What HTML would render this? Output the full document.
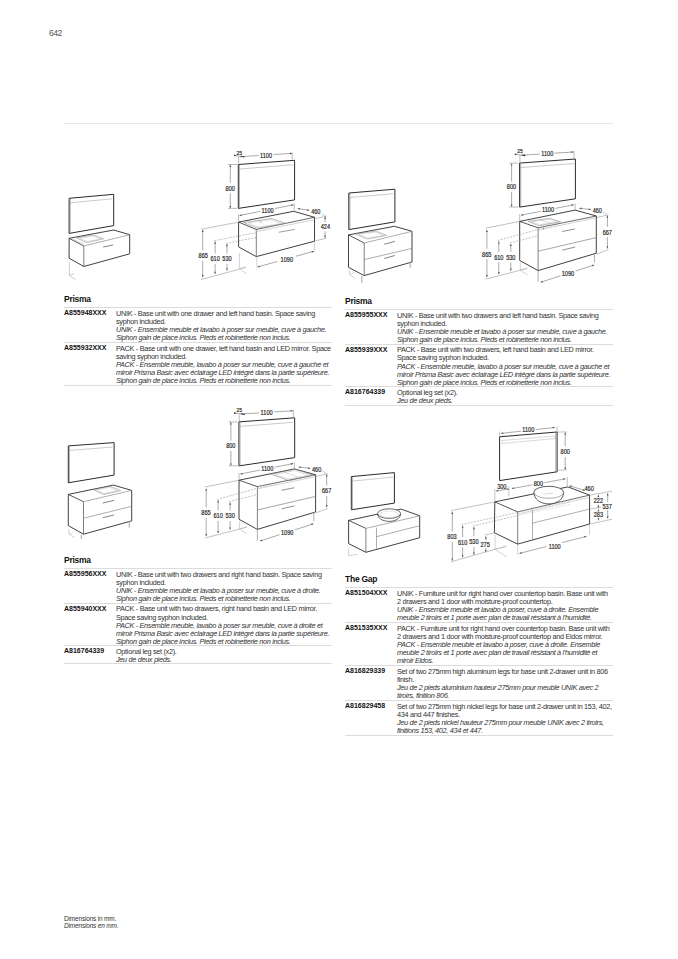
<!DOCTYPE html>
<html><head><meta charset="utf-8"><style>
html,body{margin:0;padding:0;background:#fff;width:678px;height:959px;overflow:hidden;position:relative}
body{font-family:"Liberation Sans",sans-serif;color:#2a2a2a}
.h{position:absolute;font-size:8.5px;letter-spacing:-0.25px;font-weight:bold;line-height:10px;height:10px;color:#111;white-space:nowrap}
.rule{position:absolute;width:268px;height:1px;background:#dcdcdc}
.code{position:absolute;font-size:7px;font-weight:bold;line-height:8.15px;color:#111;white-space:nowrap}
.desc{position:absolute;font-size:7.3px;line-height:8.15px;letter-spacing:-0.31px;white-space:nowrap;color:#333}
.i{font-style:italic}
.desc .i{letter-spacing:-0.325px}
.pn{position:absolute;left:49px;top:28px;font-size:8.6px;line-height:10px;color:#555;letter-spacing:-0.5px}
.top{position:absolute;left:64px;top:122.6px;width:549px;height:1px;background:#e6e6e6}
.foot{position:absolute;left:64px;top:914.5px;font-size:6.5px;line-height:7.6px;color:#333;letter-spacing:-0.18px;white-space:nowrap}
svg{position:absolute;left:0;top:0}
</style></head><body>
<div class="pn">642</div>
<div class="top"></div>
<div class="h" style="left:64px;top:294.10px">Prisma</div>
<div class="rule" style="left:64px;top:306.80px"></div>
<div class="rule" style="left:64px;top:341.90px"></div>
<div class="rule" style="left:64px;top:384.60px"></div>
<div class="code" style="left:64px;top:308.80px">A855948XXX</div>
<div class="desc" style="left:116px;top:309.60px"><div>UNIK - Base unit with one drawer and left hand basin. Space saving</div><div>syphon included.</div><div class="i">UNIK - Ensemble meuble et lavabo à poser sur meuble, cuve à gauche.</div><div class="i">Siphon gain de place inclus. Pieds et robinetterie non inclus.</div></div>
<div class="code" style="left:64px;top:343.90px">A855932XXX</div>
<div class="desc" style="left:116px;top:344.70px"><div>PACK - Base unit with one drawer, left hand basin and LED mirror. Space</div><div>saving syphon included.</div><div class="i">PACK - Ensemble meuble, lavabo à poser sur meuble, cuve à gauche et</div><div class="i">miroir Prisma Basic avec éclairage LED intégré dans la partie supérieure.</div><div class="i">Siphon gain de place inclus. Pieds et robinetterie non inclus.</div></div>
<div class="h" style="left:345px;top:295.70px">Prisma</div>
<div class="rule" style="left:345px;top:308.80px"></div>
<div class="rule" style="left:345px;top:343.50px"></div>
<div class="rule" style="left:345px;top:386.00px"></div>
<div class="rule" style="left:345px;top:404.60px"></div>
<div class="code" style="left:345px;top:310.80px">A855955XXX</div>
<div class="desc" style="left:397px;top:311.60px"><div>UNIK - Base unit with two drawers and left hand basin. Space saving</div><div>syphon included.</div><div class="i">UNIK - Ensemble meuble et lavabo à poser sur meuble, cuve à gauche.</div><div class="i">Siphon gain de place inclus. Pieds et robinetterie non inclus.</div></div>
<div class="code" style="left:345px;top:345.50px">A855939XXX</div>
<div class="desc" style="left:397px;top:346.30px"><div>PACK - Base unit with two drawers, left hand basin and LED mirror.</div><div>Space saving syphon included.</div><div class="i">PACK - Ensemble meuble, lavabo à poser sur meuble, cuve à gauche et</div><div class="i">miroir Prisma Basic avec éclairage LED intégré dans la partie supérieure.</div><div class="i">Siphon gain de place inclus. Pieds et robinetterie non inclus.</div></div>
<div class="code" style="left:345px;top:388.00px">A816764339</div>
<div class="desc" style="left:397px;top:388.80px"><div>Optional leg set (x2).</div><div class="i">Jeu de deux pieds.</div></div>
<div class="h" style="left:64px;top:554.80px">Prisma</div>
<div class="rule" style="left:64px;top:567.80px"></div>
<div class="rule" style="left:64px;top:602.60px"></div>
<div class="rule" style="left:64px;top:645.00px"></div>
<div class="rule" style="left:64px;top:663.40px"></div>
<div class="code" style="left:64px;top:569.80px">A855956XXX</div>
<div class="desc" style="left:116px;top:570.60px"><div>UNIK - Base unit with two drawers and right hand basin. Space saving</div><div>syphon included.</div><div class="i">UNIK - Ensemble meuble et lavabo à poser sur meuble, cuve à droite.</div><div class="i">Siphon gain de place inclus. Pieds et robinetterie non inclus.</div></div>
<div class="code" style="left:64px;top:604.60px">A855940XXX</div>
<div class="desc" style="left:116px;top:605.40px"><div>PACK - Base unit with two drawers, right hand basin and LED mirror.</div><div>Space saving syphon included.</div><div class="i">PACK - Ensemble meuble, lavabo à poser sur meuble, cuve à droite et</div><div class="i">miroir Prisma Basic avec éclairage LED intégré dans la partie supérieure.</div><div class="i">Siphon gain de place inclus. Pieds et robinetterie non inclus.</div></div>
<div class="code" style="left:64px;top:647.00px">A816764339</div>
<div class="desc" style="left:116px;top:647.80px"><div>Optional leg set (x2).</div><div class="i">Jeu de deux pieds.</div></div>
<div class="h" style="left:345px;top:574.30px">The Gap</div>
<div class="rule" style="left:345px;top:587.20px"></div>
<div class="rule" style="left:345px;top:622.00px"></div>
<div class="rule" style="left:345px;top:664.90px"></div>
<div class="rule" style="left:345px;top:699.80px"></div>
<div class="rule" style="left:345px;top:734.60px"></div>
<div class="code" style="left:345px;top:589.20px">A851504XXX</div>
<div class="desc" style="left:397px;top:590.00px"><div>UNIK - Furniture unit for right hand over countertop basin. Base unit with</div><div>2 drawers and 1 door with moisture-proof countertop.</div><div class="i">UNIK - Ensemble meuble et lavabo à poser, cuve à droite. Ensemble</div><div class="i">meuble 2 tiroirs et 1 porte avec plan de travail résistant à l’humidité.</div></div>
<div class="code" style="left:345px;top:624.00px">A851535XXX</div>
<div class="desc" style="left:397px;top:624.80px"><div>PACK - Furniture unit for right hand over countertop basin. Base unit with</div><div>2 drawers and 1 door with moisture-proof countertop and Eidos mirror.</div><div class="i">PACK - Ensemble meuble et lavabo à poser, cuve à droite. Ensemble</div><div class="i">meuble 2 tiroirs et 1 porte avec plan de travail résistant à l’humidité et</div><div class="i">miroir Eidos.</div></div>
<div class="code" style="left:345px;top:666.90px">A816829339</div>
<div class="desc" style="left:397px;top:667.70px"><div>Set of two 275mm high aluminum legs for base unit 2-drawer unit in 806</div><div>finish.</div><div class="i">Jeu de 2 pieds aluminium hauteur 275mm pour meuble UNIK avec 2</div><div class="i">tiroirs, finition 806.</div></div>
<div class="code" style="left:345px;top:701.80px">A816829458</div>
<div class="desc" style="left:397px;top:702.60px"><div>Set of two 275mm high nickel legs for base unit 2-drawer unit in 153, 402,</div><div>434 and 447 finishes.</div><div class="i">Jeu de 2 pieds nickel hauteur 275mm pour meuble UNIK avec 2 tiroirs,</div><div class="i">finitions 153, 402, 434 et 447.</div></div>
<div class="foot"><div>Dimensions in mm.</div><div class="i">Dimensions en mm.</div></div>
<svg width="678" height="959" viewBox="0 0 678 959" font-family="Liberation Sans, sans-serif"><polygon points="69.1,198.3 113.7,194.3 113.7,225.6 69.1,233.4" fill="none" stroke="#2b2b2b" stroke-width="1.0"/>
<polyline points="70.1,202.8 112.2,198.8" fill="none" stroke="#b5b5b5" stroke-width="0.7"/>
<polyline points="70.2,198.8 70.2,233.1" fill="none" stroke="#777" stroke-width="0.6"/>
<polygon points="69.1,238.3 113.7,230.0 129.7,234.7 129.7,253.8 83.8,266.5 69.1,258.2" fill="none" stroke="#2b2b2b" stroke-width="0.9"/>
<polyline points="69.1,238.3 83.8,246.0" fill="none" stroke="#2b2b2b" stroke-width="0.8"/>
<polyline points="83.8,246.0 83.8,266.5" fill="none" stroke="#555" stroke-width="0.75"/>
<polyline points="83.8,246.0 129.7,234.7" fill="none" stroke="#777" stroke-width="0.6"/>
<polyline points="72.0,239.0 84.0,244.0" fill="none" stroke="#b5b5b5" stroke-width="0.6"/>
<polygon points="76.5,238.0 93.0,235.0 103.5,238.8 87.0,242.6" fill="none" stroke="#8a8a8a" stroke-width="0.55"/>
<polygon points="79.5,238.2 92.5,236.0 100.5,238.9 87.5,241.6" fill="none" stroke="#b5b5b5" stroke-width="0.45"/>
<polyline points="103.1,247.1 113.1,244.9" fill="none" stroke="#666" stroke-width="0.8"/>
<polyline points="69.4,262.6 69.4,275.3 75.5,279.8" fill="none" stroke="#b5b5b5" stroke-width="0.7"/>
<polyline points="69.4,275.3 74.4,273.7" fill="none" stroke="#b5b5b5" stroke-width="0.6"/>
<polygon points="238.3,164.5 294.6,160.3 294.6,199.9 238.3,208.4" fill="none" stroke="#2b2b2b" stroke-width="1.0"/>
<polyline points="239.3,169.0 293.1,164.8" fill="none" stroke="#b5b5b5" stroke-width="0.7"/>
<polyline points="239.4,165.0 239.4,208.1" fill="none" stroke="#777" stroke-width="0.6"/>
<polyline points="240.0,156.6 258.5,155.5" fill="none" stroke="#555" stroke-width="0.5"/>
<polyline points="273.5,154.5 292.2,153.4" fill="none" stroke="#555" stroke-width="0.5"/>
<polygon points="240.0,156.6 242.1,155.6 242.3,157.4" fill="#555"/>
<polygon points="292.2,153.4 290.1,154.4 289.9,152.6" fill="#555"/>
<text transform="translate(266.00 155.20) scale(0.8 1)" y="2.52" font-size="7.0" text-anchor="middle" fill="#222" stroke="#222" stroke-width="0.18">1100</text>
<polyline points="292.2,152.5 292.2,159.5" fill="none" stroke="#777" stroke-width="0.5"/>
<polyline points="238.6,157.0 238.6,163.5" fill="none" stroke="#777" stroke-width="0.5"/>
<text transform="translate(239.20 152.40) scale(0.8 1)" y="2.23" font-size="6.2" text-anchor="middle" fill="#222" stroke="#222" stroke-width="0.18">25</text>
<polyline points="235.0,155.6 243.4,156.7" fill="none" stroke="#555" stroke-width="0.5"/>
<polygon points="236.2,155.7 233.9,156.3 234.1,154.6" fill="#222"/>
<polygon points="242.2,156.5 244.5,155.9 244.3,157.7" fill="#222"/>
<polyline points="230.3,164.8 230.3,182.8" fill="none" stroke="#555" stroke-width="0.5"/>
<polyline points="230.3,193.3 230.3,208.2" fill="none" stroke="#555" stroke-width="0.5"/>
<polygon points="230.3,164.8 231.2,167.0 229.4,167.0" fill="#555"/>
<polygon points="230.3,208.2 229.4,206.0 231.2,206.0" fill="#555"/>
<text transform="translate(230.20 188.10) scale(0.8 1)" y="2.52" font-size="7.0" text-anchor="middle" fill="#222" stroke="#222" stroke-width="0.18">800</text>
<polyline points="228.0,164.5 237.0,164.5" fill="none" stroke="#777" stroke-width="0.5"/>
<polyline points="228.0,208.4 237.0,208.4" fill="none" stroke="#777" stroke-width="0.5"/>
<polygon points="238.6,222.1 293.7,211.3 314.5,217.3 314.5,241.2 256.3,256.6 238.6,246.9" fill="none" stroke="#2b2b2b" stroke-width="0.9"/>
<polyline points="238.6,222.1 256.3,229.5" fill="none" stroke="#2b2b2b" stroke-width="0.8"/>
<polyline points="256.3,229.5 256.3,256.6" fill="none" stroke="#555" stroke-width="0.75"/>
<polyline points="256.3,229.5 314.5,217.3" fill="none" stroke="#2b2b2b" stroke-width="0.7"/>
<polyline points="256.3,231.6 314.5,219.6" fill="none" stroke="#b5b5b5" stroke-width="0.6"/>
<polygon points="243.7,222.6 271.7,218.5 285.5,223.4 257.1,228.2" fill="none" stroke="#8a8a8a" stroke-width="0.6"/>
<polygon points="248.5,222.9 271.0,219.6 281.5,223.4 258.0,227.1" fill="none" stroke="#b5b5b5" stroke-width="0.45"/>
<polyline points="259.5,219.8 261.5,223.5" fill="none" stroke="#888" stroke-width="0.5"/>
<polyline points="278.7,232.3 294.9,229.3" fill="none" stroke="#777" stroke-width="0.7"/>
<polyline points="239.5,215.5 260.1,211.4" fill="none" stroke="#555" stroke-width="0.5"/>
<polyline points="274.8,208.5 293.5,204.8" fill="none" stroke="#555" stroke-width="0.5"/>
<polygon points="239.5,215.5 241.5,214.2 241.8,216.0" fill="#555"/>
<polygon points="293.5,204.8 291.5,206.1 291.2,204.3" fill="#555"/>
<text transform="translate(267.60 210.60) scale(0.8 1)" y="2.52" font-size="7.0" text-anchor="middle" fill="#222" stroke="#222" stroke-width="0.18">1100</text>
<polyline points="238.6,214.5 238.6,221.0" fill="none" stroke="#777" stroke-width="0.5"/>
<polyline points="294.2,203.5 294.2,210.5" fill="none" stroke="#777" stroke-width="0.5"/>
<polyline points="297.7,208.6 309.2,210.2" fill="none" stroke="#555" stroke-width="0.5"/>
<polygon points="297.7,208.6 300.0,208.0 299.8,209.8" fill="#555"/>
<polygon points="309.2,210.2 306.9,210.8 307.1,209.0" fill="#555"/>
<text transform="translate(315.80 211.60) scale(0.8 1)" y="2.52" font-size="7.0" text-anchor="middle" fill="#222" stroke="#222" stroke-width="0.18">460</text>
<polyline points="321.6,214.0 326.0,216.6" fill="none" stroke="#777" stroke-width="0.45"/>
<polyline points="325.1,216.8 325.1,222.3" fill="none" stroke="#555" stroke-width="0.5"/>
<polyline points="325.1,231.3 325.1,237.8" fill="none" stroke="#555" stroke-width="0.5"/>
<polygon points="325.1,216.8 326.0,219.0 324.2,219.0" fill="#555"/>
<polygon points="325.1,237.8 324.2,235.6 326.0,235.6" fill="#555"/>
<text transform="translate(325.40 226.80) scale(0.8 1)" y="2.52" font-size="7.0" text-anchor="middle" fill="#222" stroke="#222" stroke-width="0.18">424</text>
<polyline points="315.5,218.5 326.5,216.2" fill="none" stroke="#777" stroke-width="0.45"/>
<polyline points="315.5,240.8 326.5,238.2" fill="none" stroke="#777" stroke-width="0.45"/>
<polyline points="257.5,267.0 314.0,251.2" fill="none" stroke="#555" stroke-width="0.5"/>
<polygon points="257.5,267.0 259.4,265.5 259.9,267.3" fill="#555"/>
<polygon points="314.0,251.2 312.1,252.7 311.6,250.9" fill="#555"/>
<text transform="translate(286.80 259.50) scale(0.8 1)" y="2.52" font-size="7.0" text-anchor="middle" fill="#222" stroke="#222" stroke-width="0.18">1090</text>
<polyline points="256.8,257.5 256.8,267.0" fill="none" stroke="#b5b5b5" stroke-width="0.6"/>
<polyline points="314.5,242.0 314.5,251.5" fill="none" stroke="#b5b5b5" stroke-width="0.6"/>
<rect x="277" y="255" width="19" height="7.5" fill="#fff"/>
<text transform="translate(286.80 259.00) scale(0.8 1)" y="2.52" font-size="7.0" text-anchor="middle" fill="#222" stroke="#222" stroke-width="0.18">1090</text>
<polyline points="202.7,229.8 202.7,250.3" fill="none" stroke="#555" stroke-width="0.5"/>
<polyline points="202.7,260.9 202.7,277.3" fill="none" stroke="#555" stroke-width="0.5"/>
<polygon points="202.7,229.8 203.6,232.0 201.8,232.0" fill="#555"/>
<polygon points="202.7,277.3 201.8,275.1 203.6,275.1" fill="#555"/>
<text transform="translate(203.20 255.60) scale(0.8 1)" y="2.52" font-size="7.0" text-anchor="middle" fill="#222" stroke="#222" stroke-width="0.18">865</text>
<polyline points="201.0,229.3 238.6,222.1" fill="none" stroke="#777" stroke-width="0.45"/>
<polyline points="201.0,279.6 245.6,267.5" fill="none" stroke="#777" stroke-width="0.45"/>
<polyline points="215.1,241.5 215.1,253.4" fill="none" stroke="#555" stroke-width="0.5"/>
<polyline points="215.1,263.9 215.1,274.0" fill="none" stroke="#555" stroke-width="0.5"/>
<polygon points="215.1,241.5 216.0,243.7 214.2,243.7" fill="#555"/>
<polygon points="215.1,274.0 214.2,271.8 216.0,271.8" fill="#555"/>
<text transform="translate(215.10 258.70) scale(0.8 1)" y="2.52" font-size="7.0" text-anchor="middle" fill="#222" stroke="#222" stroke-width="0.18">610</text>
<polyline points="214.0,240.8 257.0,232.5" fill="none" stroke="#777" stroke-width="0.45" stroke-dasharray="2,1.2"/>
<polyline points="227.0,244.0 227.0,253.4" fill="none" stroke="#555" stroke-width="0.5"/>
<polyline points="227.0,263.9 227.0,270.6" fill="none" stroke="#555" stroke-width="0.5"/>
<polygon points="227.0,244.0 227.9,246.2 226.1,246.2" fill="#555"/>
<polygon points="227.0,270.6 226.1,268.4 227.9,268.4" fill="#555"/>
<text transform="translate(227.00 258.70) scale(0.8 1)" y="2.52" font-size="7.0" text-anchor="middle" fill="#222" stroke="#222" stroke-width="0.18">530</text>
<polyline points="226.0,243.5 256.0,237.5" fill="none" stroke="#777" stroke-width="0.45" stroke-dasharray="2,1.2"/>
<polyline points="239.4,253.0 239.4,268.5 246.6,273.7" fill="none" stroke="#b5b5b5" stroke-width="0.6"/>
<polyline points="239.4,268.5 246.0,266.5" fill="none" stroke="#b5b5b5" stroke-width="0.5"/>
<polygon points="348.8,193.0 394.9,189.2 394.9,221.9 348.8,229.6" fill="none" stroke="#2b2b2b" stroke-width="1.0"/>
<polyline points="349.8,197.5 393.4,193.7" fill="none" stroke="#b5b5b5" stroke-width="0.7"/>
<polyline points="349.9,193.5 349.9,229.3" fill="none" stroke="#777" stroke-width="0.6"/>
<polygon points="348.5,234.9 394.3,226.3 412.0,231.3 412.0,262.0 364.2,275.6 348.5,267.3" fill="none" stroke="#2b2b2b" stroke-width="0.9"/>
<polyline points="348.5,234.9 364.2,243.0" fill="none" stroke="#2b2b2b" stroke-width="0.8"/>
<polyline points="364.2,243.0 364.2,275.6" fill="none" stroke="#555" stroke-width="0.75"/>
<polyline points="364.2,243.0 412.0,231.3" fill="none" stroke="#777" stroke-width="0.6"/>
<polyline points="364.2,259.6 412.0,248.4" fill="none" stroke="#777" stroke-width="0.6"/>
<polyline points="384.2,244.3 394.9,241.4" fill="none" stroke="#666" stroke-width="0.8"/>
<polyline points="384.2,258.5 394.9,255.5" fill="none" stroke="#666" stroke-width="0.8"/>
<polygon points="355.3,233.9 376.0,231.1 386.8,235.4 367.2,239.0" fill="none" stroke="#8a8a8a" stroke-width="0.55"/>
<polygon points="358.5,234.2 375.5,232.1 383.5,235.5 367.5,238.2" fill="none" stroke="#b5b5b5" stroke-width="0.45"/>
<polyline points="361.8,276.0 361.8,282.7" fill="none" stroke="#b5b5b5" stroke-width="1.2"/>
<polyline points="410.2,262.5 410.2,267.9" fill="none" stroke="#b5b5b5" stroke-width="1.2"/>
<polyline points="349.2,269.7 349.2,274.4 355.3,278.5" fill="none" stroke="#b5b5b5" stroke-width="0.6"/>
<polyline points="349.2,274.4 354.0,272.5" fill="none" stroke="#b5b5b5" stroke-width="0.5"/>
<polygon points="519.6,163.1 575.4,159.0 575.4,198.8 519.6,207.1" fill="none" stroke="#2b2b2b" stroke-width="1.0"/>
<polyline points="520.6,167.6 573.9,163.5" fill="none" stroke="#b5b5b5" stroke-width="0.7"/>
<polyline points="520.7,163.6 520.7,206.8" fill="none" stroke="#777" stroke-width="0.6"/>
<polyline points="521.3,155.2 539.8,154.1" fill="none" stroke="#555" stroke-width="0.5"/>
<polyline points="554.8,153.1 573.5,152.0" fill="none" stroke="#555" stroke-width="0.5"/>
<polygon points="521.3,155.2 523.4,154.2 523.6,156.0" fill="#555"/>
<polygon points="573.5,152.0 571.4,153.0 571.2,151.2" fill="#555"/>
<text transform="translate(547.30 153.80) scale(0.8 1)" y="2.52" font-size="7.0" text-anchor="middle" fill="#222" stroke="#222" stroke-width="0.18">1100</text>
<polyline points="574.0,151.0 574.0,158.3" fill="none" stroke="#777" stroke-width="0.5"/>
<polyline points="519.9,155.5 519.9,162.3" fill="none" stroke="#777" stroke-width="0.5"/>
<text transform="translate(520.00 151.00) scale(0.8 1)" y="2.23" font-size="6.2" text-anchor="middle" fill="#222" stroke="#222" stroke-width="0.18">25</text>
<polyline points="515.8,154.3 524.2,155.4" fill="none" stroke="#555" stroke-width="0.5"/>
<polygon points="517.0,154.4 514.7,155.1 514.9,153.3" fill="#222"/>
<polygon points="523.0,155.2 525.3,154.6 525.1,156.4" fill="#222"/>
<polyline points="511.6,163.4 511.6,181.7" fill="none" stroke="#555" stroke-width="0.5"/>
<polyline points="511.6,192.2 511.6,206.8" fill="none" stroke="#555" stroke-width="0.5"/>
<polygon points="511.6,163.4 512.5,165.6 510.7,165.6" fill="#555"/>
<polygon points="511.6,206.8 510.7,204.6 512.5,204.6" fill="#555"/>
<text transform="translate(511.50 186.90) scale(0.8 1)" y="2.52" font-size="7.0" text-anchor="middle" fill="#222" stroke="#222" stroke-width="0.18">800</text>
<polyline points="509.3,163.1 518.3,163.1" fill="none" stroke="#777" stroke-width="0.5"/>
<polyline points="509.3,207.0 518.3,207.0" fill="none" stroke="#777" stroke-width="0.5"/>
<polygon points="519.7,221.4 575.1,210.1 596.3,216.0 596.3,253.2 538.1,270.6 519.7,260.5" fill="none" stroke="#2b2b2b" stroke-width="0.9"/>
<polyline points="519.7,221.4 538.1,227.8" fill="none" stroke="#2b2b2b" stroke-width="0.8"/>
<polyline points="538.1,227.8 538.1,270.6" fill="none" stroke="#555" stroke-width="0.75"/>
<polyline points="538.1,227.8 596.3,216.0" fill="none" stroke="#2b2b2b" stroke-width="0.7"/>
<polyline points="538.1,230.0 596.3,217.8" fill="none" stroke="#b5b5b5" stroke-width="0.6"/>
<polyline points="538.1,251.2 596.3,237.6" fill="none" stroke="#777" stroke-width="0.65"/>
<polyline points="562.2,231.5 575.1,228.9" fill="none" stroke="#777" stroke-width="0.8"/>
<polyline points="562.2,250.1 575.1,247.1" fill="none" stroke="#777" stroke-width="0.8"/>
<polygon points="528.3,221.4 549.5,218.3 560.6,221.8 538.9,225.8" fill="none" stroke="#8a8a8a" stroke-width="0.6"/>
<polygon points="532.0,221.6 549.0,219.4 557.0,221.9 539.5,224.8" fill="none" stroke="#b5b5b5" stroke-width="0.45"/>
<polyline points="541.0,220.3 552.0,223.5" fill="none" stroke="#b5b5b5" stroke-width="0.45"/>
<polyline points="543.3,227.5 543.8,229.5" fill="none" stroke="#777" stroke-width="0.8"/>
<polyline points="521.0,215.2 540.7,211.3" fill="none" stroke="#555" stroke-width="0.5"/>
<polyline points="555.4,208.4 573.8,204.8" fill="none" stroke="#555" stroke-width="0.5"/>
<polygon points="521.0,215.2 523.0,213.9 523.3,215.7" fill="#555"/>
<polygon points="573.8,204.8 571.8,206.1 571.5,204.3" fill="#555"/>
<text transform="translate(548.00 209.60) scale(0.8 1)" y="2.52" font-size="7.0" text-anchor="middle" fill="#222" stroke="#222" stroke-width="0.18">1100</text>
<polyline points="519.7,214.0 519.7,220.5" fill="none" stroke="#777" stroke-width="0.5"/>
<polyline points="575.1,203.5 575.1,209.5" fill="none" stroke="#777" stroke-width="0.5"/>
<polyline points="579.3,208.3 591.0,209.5" fill="none" stroke="#555" stroke-width="0.5"/>
<polygon points="579.3,208.3 581.6,207.6 581.4,209.4" fill="#555"/>
<polygon points="591.0,209.5 588.7,210.2 588.9,208.4" fill="#555"/>
<text transform="translate(597.30 210.50) scale(0.8 1)" y="2.52" font-size="7.0" text-anchor="middle" fill="#222" stroke="#222" stroke-width="0.18">460</text>
<polyline points="603.0,212.0 606.6,214.5" fill="none" stroke="#777" stroke-width="0.45"/>
<polyline points="607.4,215.5 607.4,226.8" fill="none" stroke="#555" stroke-width="0.5"/>
<polyline points="607.4,237.2 607.4,248.5" fill="none" stroke="#555" stroke-width="0.5"/>
<polygon points="607.4,215.5 608.3,217.7 606.5,217.7" fill="#555"/>
<polygon points="607.4,248.5 606.5,246.3 608.3,246.3" fill="#555"/>
<text transform="translate(607.30 232.00) scale(0.8 1)" y="2.52" font-size="7.0" text-anchor="middle" fill="#222" stroke="#222" stroke-width="0.18">667</text>
<polyline points="597.0,217.5 608.5,214.8" fill="none" stroke="#777" stroke-width="0.45"/>
<polyline points="597.0,254.0 608.5,249.5" fill="none" stroke="#777" stroke-width="0.45"/>
<polyline points="540.7,282.2 560.3,275.9" fill="none" stroke="#555" stroke-width="0.5"/>
<polyline points="575.6,271.0 594.2,265.0" fill="none" stroke="#555" stroke-width="0.5"/>
<polygon points="540.7,282.2 542.5,280.7 543.1,282.4" fill="#555"/>
<polygon points="594.2,265.0 592.4,266.5 591.8,264.8" fill="#555"/>
<text transform="translate(567.90 273.30) scale(0.8 1)" y="2.52" font-size="7.0" text-anchor="middle" fill="#222" stroke="#222" stroke-width="0.18">1090</text>
<polyline points="538.1,271.0 538.1,281.5" fill="none" stroke="#b5b5b5" stroke-width="1.1"/>
<polyline points="594.5,254.0 594.5,262.5" fill="none" stroke="#b5b5b5" stroke-width="1.1"/>
<polyline points="486.9,229.8 486.9,248.8" fill="none" stroke="#555" stroke-width="0.5"/>
<polyline points="486.9,259.2 486.9,277.3" fill="none" stroke="#555" stroke-width="0.5"/>
<polygon points="486.9,229.8 487.8,232.0 486.0,232.0" fill="#555"/>
<polygon points="486.9,277.3 486.0,275.1 487.8,275.1" fill="#555"/>
<text transform="translate(486.70 254.00) scale(0.8 1)" y="2.52" font-size="7.0" text-anchor="middle" fill="#222" stroke="#222" stroke-width="0.18">865</text>
<polyline points="485.5,228.2 519.7,221.4" fill="none" stroke="#777" stroke-width="0.45"/>
<polyline points="485.5,279.2 527.4,268.4" fill="none" stroke="#777" stroke-width="0.45"/>
<polyline points="498.8,241.4 498.8,251.8" fill="none" stroke="#555" stroke-width="0.5"/>
<polyline points="498.8,262.2 498.8,274.3" fill="none" stroke="#555" stroke-width="0.5"/>
<polygon points="498.8,241.4 499.7,243.6 497.9,243.6" fill="#555"/>
<polygon points="498.8,274.3 497.9,272.1 499.7,272.1" fill="#555"/>
<text transform="translate(498.80 257.00) scale(0.8 1)" y="2.52" font-size="7.0" text-anchor="middle" fill="#222" stroke="#222" stroke-width="0.18">610</text>
<polyline points="497.8,240.5 538.0,229.5" fill="none" stroke="#777" stroke-width="0.45" stroke-dasharray="2,1.2"/>
<polyline points="538.0,229.5 560.0,224.5" fill="none" stroke="#b5b5b5" stroke-width="0.4" stroke-dasharray="2,1.2"/>
<polyline points="510.8,243.8 510.8,251.8" fill="none" stroke="#555" stroke-width="0.5"/>
<polyline points="510.8,262.2 510.8,270.8" fill="none" stroke="#555" stroke-width="0.5"/>
<polygon points="510.8,243.8 511.7,246.0 509.9,246.0" fill="#555"/>
<polygon points="510.8,270.8 509.9,268.6 511.7,268.6" fill="#555"/>
<text transform="translate(510.80 257.00) scale(0.8 1)" y="2.52" font-size="7.0" text-anchor="middle" fill="#222" stroke="#222" stroke-width="0.18">530</text>
<polyline points="509.8,242.8 538.0,235.8" fill="none" stroke="#777" stroke-width="0.45" stroke-dasharray="2,1.2"/>
<polyline points="520.3,262.4 520.3,270.3 527.4,274.8" fill="none" stroke="#b5b5b5" stroke-width="0.6"/>
<polyline points="520.3,270.3 527.0,268.0" fill="none" stroke="#b5b5b5" stroke-width="0.5"/>
<polygon points="238.9,421.9 294.7,417.8 294.7,457.6 238.9,465.9" fill="none" stroke="#2b2b2b" stroke-width="1.0"/>
<polyline points="239.9,426.4 293.2,422.3" fill="none" stroke="#b5b5b5" stroke-width="0.7"/>
<polyline points="240.0,422.4 240.0,465.6" fill="none" stroke="#777" stroke-width="0.6"/>
<polyline points="240.6,414.0 259.1,412.9" fill="none" stroke="#555" stroke-width="0.5"/>
<polyline points="274.1,411.9 292.8,410.8" fill="none" stroke="#555" stroke-width="0.5"/>
<polygon points="240.6,414.0 242.7,413.0 242.9,414.8" fill="#555"/>
<polygon points="292.8,410.8 290.7,411.8 290.5,410.0" fill="#555"/>
<text transform="translate(266.60 412.60) scale(0.8 1)" y="2.52" font-size="7.0" text-anchor="middle" fill="#222" stroke="#222" stroke-width="0.18">1100</text>
<polyline points="293.3,409.8 293.3,417.1" fill="none" stroke="#777" stroke-width="0.5"/>
<polyline points="239.2,414.3 239.2,421.1" fill="none" stroke="#777" stroke-width="0.5"/>
<text transform="translate(239.30 409.80) scale(0.8 1)" y="2.23" font-size="6.2" text-anchor="middle" fill="#222" stroke="#222" stroke-width="0.18">25</text>
<polyline points="235.1,413.1 243.5,414.2" fill="none" stroke="#555" stroke-width="0.5"/>
<polygon points="236.3,413.2 234.0,413.9 234.2,412.1" fill="#222"/>
<polygon points="242.3,414.0 244.6,413.4 244.4,415.2" fill="#222"/>
<polyline points="230.9,422.2 230.9,440.5" fill="none" stroke="#555" stroke-width="0.5"/>
<polyline points="230.9,451.0 230.9,465.6" fill="none" stroke="#555" stroke-width="0.5"/>
<polygon points="230.9,422.2 231.8,424.4 230.0,424.4" fill="#555"/>
<polygon points="230.9,465.6 230.0,463.4 231.8,463.4" fill="#555"/>
<text transform="translate(230.80 445.70) scale(0.8 1)" y="2.52" font-size="7.0" text-anchor="middle" fill="#222" stroke="#222" stroke-width="0.18">800</text>
<polyline points="228.6,421.9 237.6,421.9" fill="none" stroke="#777" stroke-width="0.5"/>
<polyline points="228.6,465.8 237.6,465.8" fill="none" stroke="#777" stroke-width="0.5"/>
<polygon points="239.0,480.2 294.4,468.9 315.6,474.8 315.6,512.0 257.4,529.4 239.0,519.3" fill="none" stroke="#2b2b2b" stroke-width="0.9"/>
<polyline points="239.0,480.2 257.4,486.6" fill="none" stroke="#2b2b2b" stroke-width="0.8"/>
<polyline points="257.4,486.6 257.4,529.4" fill="none" stroke="#555" stroke-width="0.75"/>
<polyline points="257.4,486.6 315.6,474.8" fill="none" stroke="#2b2b2b" stroke-width="0.7"/>
<polyline points="257.4,488.8 315.6,476.6" fill="none" stroke="#b5b5b5" stroke-width="0.6"/>
<polyline points="257.4,510.0 315.6,496.4" fill="none" stroke="#777" stroke-width="0.65"/>
<polyline points="281.5,490.3 294.4,487.7" fill="none" stroke="#777" stroke-width="0.8"/>
<polyline points="281.5,508.9 294.4,505.9" fill="none" stroke="#777" stroke-width="0.8"/>
<polygon points="270.5,474.0 295.3,469.3 312.8,475.0 289.1,480.7" fill="none" stroke="#8a8a8a" stroke-width="0.6"/>
<polygon points="274.8,474.4 294.8,470.6 308.3,475.1 288.8,479.1" fill="none" stroke="#b5b5b5" stroke-width="0.45"/>
<polyline points="284.3,472.3 299.3,477.4" fill="none" stroke="#b5b5b5" stroke-width="0.45"/>
<polyline points="240.3,474.0 260.0,470.1" fill="none" stroke="#555" stroke-width="0.5"/>
<polyline points="274.7,467.2 293.1,463.6" fill="none" stroke="#555" stroke-width="0.5"/>
<polygon points="240.3,474.0 242.3,472.7 242.6,474.5" fill="#555"/>
<polygon points="293.1,463.6 291.1,464.9 290.8,463.1" fill="#555"/>
<text transform="translate(267.30 468.40) scale(0.8 1)" y="2.52" font-size="7.0" text-anchor="middle" fill="#222" stroke="#222" stroke-width="0.18">1100</text>
<polyline points="239.0,472.8 239.0,479.3" fill="none" stroke="#777" stroke-width="0.5"/>
<polyline points="294.4,462.3 294.4,468.3" fill="none" stroke="#777" stroke-width="0.5"/>
<polyline points="298.6,467.1 310.3,468.3" fill="none" stroke="#555" stroke-width="0.5"/>
<polygon points="298.6,467.1 300.9,466.4 300.7,468.2" fill="#555"/>
<polygon points="310.3,468.3 308.0,469.0 308.2,467.2" fill="#555"/>
<text transform="translate(316.60 469.30) scale(0.8 1)" y="2.52" font-size="7.0" text-anchor="middle" fill="#222" stroke="#222" stroke-width="0.18">460</text>
<polyline points="322.3,470.8 325.9,473.3" fill="none" stroke="#777" stroke-width="0.45"/>
<polyline points="326.7,474.3 326.7,485.6" fill="none" stroke="#555" stroke-width="0.5"/>
<polyline points="326.7,496.1 326.7,507.3" fill="none" stroke="#555" stroke-width="0.5"/>
<polygon points="326.7,474.3 327.6,476.5 325.8,476.5" fill="#555"/>
<polygon points="326.7,507.3 325.8,505.1 327.6,505.1" fill="#555"/>
<text transform="translate(326.60 490.80) scale(0.8 1)" y="2.52" font-size="7.0" text-anchor="middle" fill="#222" stroke="#222" stroke-width="0.18">667</text>
<polyline points="316.3,476.3 327.8,473.6" fill="none" stroke="#777" stroke-width="0.45"/>
<polyline points="316.3,512.8 327.8,508.3" fill="none" stroke="#777" stroke-width="0.45"/>
<polyline points="260.0,541.0 279.6,534.7" fill="none" stroke="#555" stroke-width="0.5"/>
<polyline points="294.9,529.8 313.5,523.8" fill="none" stroke="#555" stroke-width="0.5"/>
<polygon points="260.0,541.0 261.8,539.5 262.4,541.2" fill="#555"/>
<polygon points="313.5,523.8 311.7,525.3 311.1,523.6" fill="#555"/>
<text transform="translate(287.20 532.10) scale(0.8 1)" y="2.52" font-size="7.0" text-anchor="middle" fill="#222" stroke="#222" stroke-width="0.18">1090</text>
<polyline points="257.4,529.8 257.4,540.3" fill="none" stroke="#b5b5b5" stroke-width="1.1"/>
<polyline points="313.8,512.8 313.8,521.3" fill="none" stroke="#b5b5b5" stroke-width="1.1"/>
<polyline points="206.2,488.6 206.2,507.5" fill="none" stroke="#555" stroke-width="0.5"/>
<polyline points="206.2,518.0 206.2,536.1" fill="none" stroke="#555" stroke-width="0.5"/>
<polygon points="206.2,488.6 207.1,490.8 205.3,490.8" fill="#555"/>
<polygon points="206.2,536.1 205.3,533.9 207.1,533.9" fill="#555"/>
<text transform="translate(206.00 512.80) scale(0.8 1)" y="2.52" font-size="7.0" text-anchor="middle" fill="#222" stroke="#222" stroke-width="0.18">865</text>
<polyline points="204.8,487.0 239.0,480.2" fill="none" stroke="#777" stroke-width="0.45"/>
<polyline points="204.8,538.0 246.7,527.2" fill="none" stroke="#777" stroke-width="0.45"/>
<polyline points="218.1,500.2 218.1,510.5" fill="none" stroke="#555" stroke-width="0.5"/>
<polyline points="218.1,521.0 218.1,533.1" fill="none" stroke="#555" stroke-width="0.5"/>
<polygon points="218.1,500.2 219.0,502.4 217.2,502.4" fill="#555"/>
<polygon points="218.1,533.1 217.2,530.9 219.0,530.9" fill="#555"/>
<text transform="translate(218.10 515.80) scale(0.8 1)" y="2.52" font-size="7.0" text-anchor="middle" fill="#222" stroke="#222" stroke-width="0.18">610</text>
<polyline points="217.1,499.3 257.3,488.3" fill="none" stroke="#777" stroke-width="0.45" stroke-dasharray="2,1.2"/>
<polyline points="257.3,488.3 279.3,483.3" fill="none" stroke="#b5b5b5" stroke-width="0.4" stroke-dasharray="2,1.2"/>
<polyline points="230.1,502.6 230.1,510.5" fill="none" stroke="#555" stroke-width="0.5"/>
<polyline points="230.1,521.0 230.1,529.6" fill="none" stroke="#555" stroke-width="0.5"/>
<polygon points="230.1,502.6 231.0,504.8 229.2,504.8" fill="#555"/>
<polygon points="230.1,529.6 229.2,527.4 231.0,527.4" fill="#555"/>
<text transform="translate(230.10 515.80) scale(0.8 1)" y="2.52" font-size="7.0" text-anchor="middle" fill="#222" stroke="#222" stroke-width="0.18">530</text>
<polyline points="229.1,501.6 257.3,494.6" fill="none" stroke="#777" stroke-width="0.45" stroke-dasharray="2,1.2"/>
<polyline points="239.6,521.2 239.6,529.1 246.7,533.6" fill="none" stroke="#b5b5b5" stroke-width="0.6"/>
<polyline points="239.6,529.1 246.3,526.8" fill="none" stroke="#b5b5b5" stroke-width="0.5"/>
<polygon points="68.3,445.9 114.1,442.6 114.1,475.1 68.3,482.8" fill="none" stroke="#2b2b2b" stroke-width="1.0"/>
<polyline points="69.3,450.4 112.6,447.1" fill="none" stroke="#b5b5b5" stroke-width="0.7"/>
<polyline points="69.4,446.4 69.4,482.5" fill="none" stroke="#777" stroke-width="0.6"/>
<polygon points="68.3,494.4 113.4,485.1 131.7,490.4 131.7,520.9 83.5,534.2 68.3,525.6" fill="none" stroke="#2b2b2b" stroke-width="0.9"/>
<polyline points="68.3,494.4 83.5,501.7" fill="none" stroke="#2b2b2b" stroke-width="0.8"/>
<polyline points="83.5,501.7 83.5,534.2" fill="none" stroke="#555" stroke-width="0.75"/>
<polyline points="83.5,501.7 131.7,490.4" fill="none" stroke="#777" stroke-width="0.6"/>
<polyline points="83.5,518.3 131.7,506.3" fill="none" stroke="#777" stroke-width="0.6"/>
<polyline points="102.8,503.0 114.1,500.4" fill="none" stroke="#666" stroke-width="0.8"/>
<polyline points="102.8,517.6 114.1,515.0" fill="none" stroke="#666" stroke-width="0.8"/>
<polygon points="93.5,489.7 110.0,486.3 120.5,490.6 103.5,494.5" fill="none" stroke="#8a8a8a" stroke-width="0.55"/>
<polygon points="96.5,489.9 109.5,487.3 117.5,490.7 104.0,493.6" fill="none" stroke="#b5b5b5" stroke-width="0.45"/>
<polyline points="81.3,534.5 81.3,538.9" fill="none" stroke="#b5b5b5" stroke-width="1.2"/>
<polyline points="129.3,521.5 129.3,527.6" fill="none" stroke="#b5b5b5" stroke-width="1.2"/>
<polyline points="68.9,528.9 68.9,534.2 74.9,537.5" fill="none" stroke="#b5b5b5" stroke-width="0.6"/>
<polyline points="68.9,534.2 73.5,532.5" fill="none" stroke="#b5b5b5" stroke-width="0.5"/>
<polygon points="351.3,476.6 394.4,472.6 394.4,503.1 351.3,509.8" fill="none" stroke="#2b2b2b" stroke-width="1.0"/>
<polyline points="352.3,481.1 392.9,477.1" fill="none" stroke="#b5b5b5" stroke-width="0.7"/>
<polyline points="352.4,477.1 352.4,509.5" fill="none" stroke="#777" stroke-width="0.6"/>
<polygon points="348.6,520.4 401.1,509.1 419.7,515.8 419.7,537.7 365.9,552.3 348.6,543.6" fill="none" stroke="#2b2b2b" stroke-width="0.9"/>
<polyline points="348.6,520.4 365.9,528.4" fill="none" stroke="#2b2b2b" stroke-width="0.8"/>
<polyline points="365.9,528.4 365.9,552.3" fill="none" stroke="#555" stroke-width="0.75"/>
<polyline points="365.9,528.4 419.7,515.8" fill="none" stroke="#777" stroke-width="0.6"/>
<polyline points="376.5,527.7 376.5,548.9" fill="none" stroke="#777" stroke-width="0.6"/>
<polyline points="376.5,536.7 419.7,525.7" fill="none" stroke="#777" stroke-width="0.6"/>
<path d="M377.6,513.6 A11.5,4.8 0 0 1 400.6,513.6 Q400.3,520.8 389.1,521.5 Q377.9,520.8 377.6,513.6 Z" fill="#fff" stroke="none"/>
<path d="M377.6,513.8 Q377.9,520.8 389.1,521.5 Q400.3,520.8 400.6,513.8" fill="none" stroke="#2b2b2b" stroke-width="0.7"/>
<ellipse cx="389.1" cy="513.6" rx="11.5" ry="4.8" fill="none" stroke="#2b2b2b" stroke-width="0.7"/>
<ellipse cx="389.1" cy="514.4" rx="9.0" ry="3.3" fill="none" stroke="#b5b5b5" stroke-width="0.4"/>
<polyline points="348.6,548.3 348.6,555.6 357.3,554.3" fill="none" stroke="#b5b5b5" stroke-width="0.6"/>
<polygon points="499.6,436.8 557.1,432.0 557.1,471.8 499.6,480.6" fill="none" stroke="#2b2b2b" stroke-width="1.0"/>
<polyline points="555.8,432.5 555.8,472.1" fill="none" stroke="#777" stroke-width="0.6"/>
<path d="M502,440.5 L555,436 L555,438.5 L502,443.5 Z" fill="none" stroke="#b5b5b5" stroke-width="0.5"/>
<polyline points="501.0,433.4 520.9,431.2" fill="none" stroke="#555" stroke-width="0.5"/>
<polyline points="535.8,429.6 554.9,427.5" fill="none" stroke="#555" stroke-width="0.5"/>
<polygon points="501.0,433.4 503.1,432.3 503.3,434.1" fill="#555"/>
<polygon points="554.9,427.5 552.8,428.6 552.6,426.8" fill="#555"/>
<text transform="translate(528.30 429.70) scale(0.8 1)" y="2.52" font-size="7.0" text-anchor="middle" fill="#222" stroke="#222" stroke-width="0.18">1100</text>
<polyline points="499.6,431.5 499.6,436.0" fill="none" stroke="#777" stroke-width="0.45"/>
<polyline points="557.1,426.5 557.1,431.5" fill="none" stroke="#777" stroke-width="0.45"/>
<polyline points="565.2,432.5 565.2,446.4" fill="none" stroke="#555" stroke-width="0.5"/>
<polyline points="565.2,456.9 565.2,469.6" fill="none" stroke="#555" stroke-width="0.5"/>
<polygon points="565.2,432.5 566.1,434.7 564.3,434.7" fill="#555"/>
<polygon points="565.2,469.6 564.3,467.4 566.1,467.4" fill="#555"/>
<text transform="translate(565.20 451.60) scale(0.8 1)" y="2.52" font-size="7.0" text-anchor="middle" fill="#222" stroke="#222" stroke-width="0.18">800</text>
<polyline points="557.5,432.0 567.0,432.0" fill="none" stroke="#777" stroke-width="0.45"/>
<polyline points="557.5,470.3 567.0,469.8" fill="none" stroke="#777" stroke-width="0.45"/>
<polygon points="494.8,501.9 567.9,486.9 589.6,495.1 589.6,524.0 517.7,544.1 494.4,532.8" fill="none" stroke="#2b2b2b" stroke-width="0.9"/>
<polyline points="494.8,501.9 517.7,511.9" fill="none" stroke="#2b2b2b" stroke-width="0.8"/>
<polyline points="517.7,511.9 517.7,544.1" fill="none" stroke="#555" stroke-width="0.75"/>
<polyline points="517.7,511.9 589.6,495.1" fill="none" stroke="#2b2b2b" stroke-width="0.7"/>
<polyline points="517.7,514.2 589.6,497.3" fill="none" stroke="#b5b5b5" stroke-width="0.6"/>
<polyline points="532.5,510.0 532.5,540.2" fill="none" stroke="#777" stroke-width="0.6"/>
<polyline points="532.5,523.1 589.6,509.1" fill="none" stroke="#777" stroke-width="0.6"/>
<path d="M533.9,492.3 A14.9,6.0 0 0 1 563.7,492.3 C563.6,499 557.6,503.9 548.8,503.9 C540,503.9 534,499 533.9,492.3 Z" fill="#fff" stroke="none"/>
<path d="M533.9,492.3 C534,499 540,503.9 548.8,503.9 C557.6,503.9 563.6,499 563.7,492.3" fill="none" stroke="#2b2b2b" stroke-width="0.75"/>
<path d="M533.9,492.3 A14.9,6.0 0 0 1 563.7,492.3" fill="none" stroke="#2b2b2b" stroke-width="0.75"/>
<path d="M533.9,492.3 A14.9,6.0 0 0 0 563.7,492.3" fill="none" stroke="#777" stroke-width="0.6"/>
<polyline points="543.0,494.2 553.0,493.2" fill="none" stroke="#b5b5b5" stroke-width="0.5"/>
<polyline points="496.0,491.0 508.9,488.9" fill="none" stroke="#555" stroke-width="0.5"/>
<polygon points="496.0,491.0 498.0,489.8 498.3,491.5" fill="#555"/>
<polygon points="508.9,488.9 506.9,490.1 506.6,488.4" fill="#555"/>
<text transform="translate(501.80 486.30) scale(0.8 1)" y="2.52" font-size="7.0" text-anchor="middle" fill="#222" stroke="#222" stroke-width="0.18">300</text>
<polyline points="494.8,489.0 494.8,501.0" fill="none" stroke="#777" stroke-width="0.45"/>
<polyline points="508.9,486.5 508.9,496.5" fill="none" stroke="#777" stroke-width="0.45"/>
<polyline points="511.8,488.6 532.5,484.8" fill="none" stroke="#555" stroke-width="0.5"/>
<polyline points="544.3,482.7 565.5,478.8" fill="none" stroke="#555" stroke-width="0.5"/>
<polygon points="511.8,488.6 513.8,487.3 514.1,489.1" fill="#555"/>
<polygon points="565.5,478.8 563.5,480.1 563.2,478.3" fill="#555"/>
<text transform="translate(538.40 483.60) scale(0.8 1)" y="2.52" font-size="7.0" text-anchor="middle" fill="#222" stroke="#222" stroke-width="0.18">800</text>
<polyline points="567.3,476.8 567.3,486.5" fill="none" stroke="#777" stroke-width="0.45"/>
<polyline points="569.5,485.8 585.0,490.5" fill="none" stroke="#555" stroke-width="0.5"/>
<polygon points="569.5,485.8 571.9,485.6 571.3,487.3" fill="#555"/>
<polygon points="585.0,490.5 582.6,490.7 583.2,489.0" fill="#555"/>
<text transform="translate(589.10 488.40) scale(0.8 1)" y="2.52" font-size="7.0" text-anchor="middle" fill="#222" stroke="#222" stroke-width="0.18">460</text>
<polyline points="598.4,494.8 598.4,497.1" fill="none" stroke="#555" stroke-width="0.5"/>
<polyline points="598.4,504.6 598.4,508.0" fill="none" stroke="#555" stroke-width="0.5"/>
<polygon points="598.4,494.8 599.3,497.0 597.5,497.0" fill="#555"/>
<polygon points="598.4,508.0 597.5,505.8 599.3,505.8" fill="#555"/>
<text transform="translate(598.40 500.80) scale(0.8 1)" y="2.52" font-size="7.0" text-anchor="middle" fill="#222" stroke="#222" stroke-width="0.18">222</text>
<polyline points="598.4,509.3 598.4,511.0" fill="none" stroke="#555" stroke-width="0.5"/>
<polyline points="598.4,518.5 598.4,520.4" fill="none" stroke="#555" stroke-width="0.5"/>
<polygon points="598.4,509.3 599.3,511.5 597.5,511.5" fill="#555"/>
<polygon points="598.4,520.4 597.5,518.2 599.3,518.2" fill="#555"/>
<text transform="translate(598.40 514.70) scale(0.8 1)" y="2.52" font-size="7.0" text-anchor="middle" fill="#222" stroke="#222" stroke-width="0.18">283</text>
<polyline points="607.7,493.3 607.7,502.2" fill="none" stroke="#555" stroke-width="0.5"/>
<polyline points="607.7,509.8 607.7,518.4" fill="none" stroke="#555" stroke-width="0.5"/>
<polygon points="607.7,493.3 608.6,495.5 606.8,495.5" fill="#555"/>
<polygon points="607.7,518.4 606.8,516.2 608.6,516.2" fill="#555"/>
<text transform="translate(607.10 506.00) scale(0.8 1)" y="2.52" font-size="7.0" text-anchor="middle" fill="#222" stroke="#222" stroke-width="0.18">537</text>
<polyline points="590.2,495.0 612.0,491.2" fill="none" stroke="#777" stroke-width="0.45"/>
<polyline points="590.2,509.0 601.0,507.5" fill="none" stroke="#777" stroke-width="0.45"/>
<polyline points="590.2,524.0 612.0,519.2" fill="none" stroke="#777" stroke-width="0.45"/>
<polyline points="589.6,524.5 589.6,534.9" fill="none" stroke="#b5b5b5" stroke-width="0.6"/>
<polyline points="517.7,545.0 517.7,555.0" fill="none" stroke="#b5b5b5" stroke-width="0.6"/>
<polyline points="519.4,553.4 546.6,546.5" fill="none" stroke="#555" stroke-width="0.5"/>
<polyline points="562.1,542.6 586.5,536.4" fill="none" stroke="#555" stroke-width="0.5"/>
<polygon points="519.4,553.4 521.3,552.0 521.8,553.7" fill="#555"/>
<polygon points="586.5,536.4 584.6,537.8 584.1,536.1" fill="#555"/>
<text transform="translate(554.70 546.10) scale(0.8 1)" y="2.52" font-size="7.0" text-anchor="middle" fill="#222" stroke="#222" stroke-width="0.18">1100</text>
<polyline points="452.3,511.8 452.3,531.5" fill="none" stroke="#555" stroke-width="0.5"/>
<polyline points="452.3,542.0 452.3,560.7" fill="none" stroke="#555" stroke-width="0.5"/>
<polygon points="452.3,511.8 453.2,514.0 451.4,514.0" fill="#555"/>
<polygon points="452.3,560.7 451.4,558.5 453.2,558.5" fill="#555"/>
<text transform="translate(452.00 536.80) scale(0.8 1)" y="2.52" font-size="7.0" text-anchor="middle" fill="#222" stroke="#222" stroke-width="0.18">803</text>
<polyline points="451.0,510.6 494.8,501.9" fill="none" stroke="#777" stroke-width="0.45"/>
<polyline points="451.0,561.8 506.4,546.1" fill="none" stroke="#777" stroke-width="0.45"/>
<polyline points="462.6,525.6 462.6,536.9" fill="none" stroke="#555" stroke-width="0.5"/>
<polyline points="462.6,547.4 462.6,557.4" fill="none" stroke="#555" stroke-width="0.5"/>
<polygon points="462.6,525.6 463.5,527.8 461.7,527.8" fill="#555"/>
<polygon points="462.6,557.4 461.7,555.2 463.5,555.2" fill="#555"/>
<text transform="translate(462.60 542.10) scale(0.8 1)" y="2.52" font-size="7.0" text-anchor="middle" fill="#222" stroke="#222" stroke-width="0.18">610</text>
<polyline points="461.5,524.6 517.7,512.5" fill="none" stroke="#777" stroke-width="0.45" stroke-dasharray="2,1.2"/>
<polyline points="517.7,512.5 570.0,501.0" fill="none" stroke="#b5b5b5" stroke-width="0.45" stroke-dasharray="2,1.2"/>
<polyline points="473.9,527.0 473.9,536.2" fill="none" stroke="#555" stroke-width="0.5"/>
<polyline points="473.9,546.8 473.9,554.7" fill="none" stroke="#555" stroke-width="0.5"/>
<polygon points="473.9,527.0 474.8,529.2 473.0,529.2" fill="#555"/>
<polygon points="473.9,554.7 473.0,552.5 474.8,552.5" fill="#555"/>
<text transform="translate(473.90 541.50) scale(0.8 1)" y="2.52" font-size="7.0" text-anchor="middle" fill="#222" stroke="#222" stroke-width="0.18">530</text>
<polyline points="472.9,526.0 517.7,515.5" fill="none" stroke="#777" stroke-width="0.45" stroke-dasharray="2,1.2"/>
<polyline points="517.7,515.5 570.0,504.5" fill="none" stroke="#b5b5b5" stroke-width="0.45" stroke-dasharray="2,1.2"/>
<polyline points="485.8,536.3 485.8,540.4" fill="none" stroke="#555" stroke-width="0.5"/>
<polyline points="485.8,547.9 485.8,552.1" fill="none" stroke="#555" stroke-width="0.5"/>
<polygon points="485.8,536.3 486.7,538.5 484.9,538.5" fill="#555"/>
<polygon points="485.8,552.1 484.9,549.9 486.7,549.9" fill="#555"/>
<text transform="translate(485.10 544.10) scale(0.8 1)" y="2.52" font-size="7.0" text-anchor="middle" fill="#222" stroke="#222" stroke-width="0.18">275</text>
<polyline points="484.8,535.2 494.8,532.8" fill="none" stroke="#777" stroke-width="0.45"/>
<polyline points="495.1,534.8 495.1,549.4 506.4,556.7" fill="none" stroke="#b5b5b5" stroke-width="0.6"/>
<polyline points="495.1,549.4 505.7,546.8" fill="none" stroke="#b5b5b5" stroke-width="0.5"/></svg>
</body></html>
